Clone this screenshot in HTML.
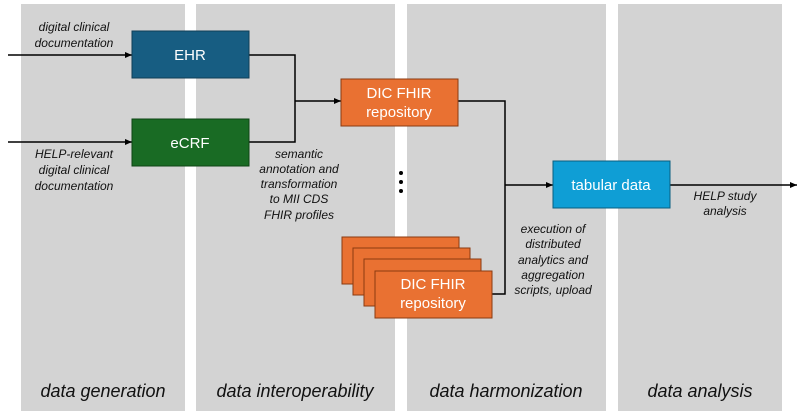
<!DOCTYPE html>
<html><head><style>
body{margin:0;width:800px;height:411px;background:#fff;overflow:hidden;font-family:"Liberation Sans",sans-serif}
</style></head><body>
<svg width="800" height="411" viewBox="0 0 800 411" xmlns="http://www.w3.org/2000/svg" font-family="Liberation Sans, sans-serif">
<defs><marker id="a" markerWidth="8" markerHeight="8" refX="7" refY="4" orient="auto" markerUnits="userSpaceOnUse"><path d="M0,1 L7,4 L0,7z" fill="#000"/></marker></defs>
<rect x="21" y="4" width="164" height="407" fill="#d3d3d3"/>
<rect x="196" y="4" width="199" height="407" fill="#d3d3d3"/>
<rect x="407" y="4" width="199" height="407" fill="#d3d3d3"/>
<rect x="618" y="4" width="164" height="407" fill="#d3d3d3"/>
<g font-style="italic" font-size="18" fill="#111" text-anchor="middle">
<text x="103" y="397">data generation</text><text x="295" y="397">data interoperability</text>
<text x="506" y="397">data harmonization</text><text x="700" y="397">data analysis</text></g>
<g stroke="#000" stroke-width="1.5" fill="none">
<line x1="8" y1="55" x2="132" y2="55" marker-end="url(#a)"/>
<line x1="8" y1="142" x2="132" y2="142" marker-end="url(#a)"/>
<polyline points="249,55 295,55 295,142 249,142"/>
<line x1="295" y1="101" x2="341" y2="101" marker-end="url(#a)"/>
<polyline points="458,101 505,101 505,294 492,294"/>
<line x1="505" y1="185" x2="553" y2="185" marker-end="url(#a)"/>
<line x1="670" y1="185" x2="797" y2="185" marker-end="url(#a)"/>
</g>
<rect x="132" y="31" width="117" height="47" fill="#175d82" stroke="#0f3e57"/>
<rect x="132" y="119" width="117" height="47" fill="#196b24" stroke="#0e4515"/>
<rect x="341" y="79" width="117" height="47" fill="#e97132" stroke="#8a3a10"/>
<rect x="553" y="161" width="117" height="47" fill="#0f9ed5" stroke="#0a5f80"/>
<rect x="342" y="237" width="117" height="47" fill="#e97132" stroke="#8a3a10"/>
<rect x="353" y="248" width="117" height="47" fill="#e97132" stroke="#8a3a10"/>
<rect x="364" y="259" width="117" height="47" fill="#e97132" stroke="#8a3a10"/>
<rect x="375" y="271" width="117" height="47" fill="#e97132" stroke="#8a3a10"/>
<g fill="#fff" font-size="15" text-anchor="middle">
<text x="190" y="60">EHR</text><text x="190" y="148">eCRF</text>
<text x="399" y="98">DIC FHIR</text><text x="399" y="117">repository</text>
<text x="611" y="190">tabular data</text>
<text x="433" y="289">DIC FHIR</text><text x="433" y="308">repository</text>
</g>
<g fill="#000"><circle cx="401" cy="173" r="2"/><circle cx="401" cy="182" r="2"/><circle cx="401" cy="191" r="2"/></g>
<g font-style="italic" font-size="12" fill="#111" text-anchor="middle">
<text x="74" y="31">digital clinical</text><text x="74" y="47">documentation</text>
<text x="74" y="158">HELP-relevant</text><text x="74" y="174">digital clinical</text><text x="74" y="190">documentation</text>
<text x="299" y="158">semantic</text><text x="299" y="173">annotation and</text><text x="299" y="188">transformation</text><text x="299" y="203">to MII CDS</text><text x="299" y="219">FHIR profiles</text>
<text x="553" y="233">execution of</text><text x="553" y="248">distributed</text><text x="553" y="264">analytics and</text><text x="553" y="279">aggregation</text><text x="553" y="294">scripts, upload</text>
<text x="725" y="200">HELP study</text><text x="725" y="215">analysis</text>
</g>
</svg>
</body></html>
